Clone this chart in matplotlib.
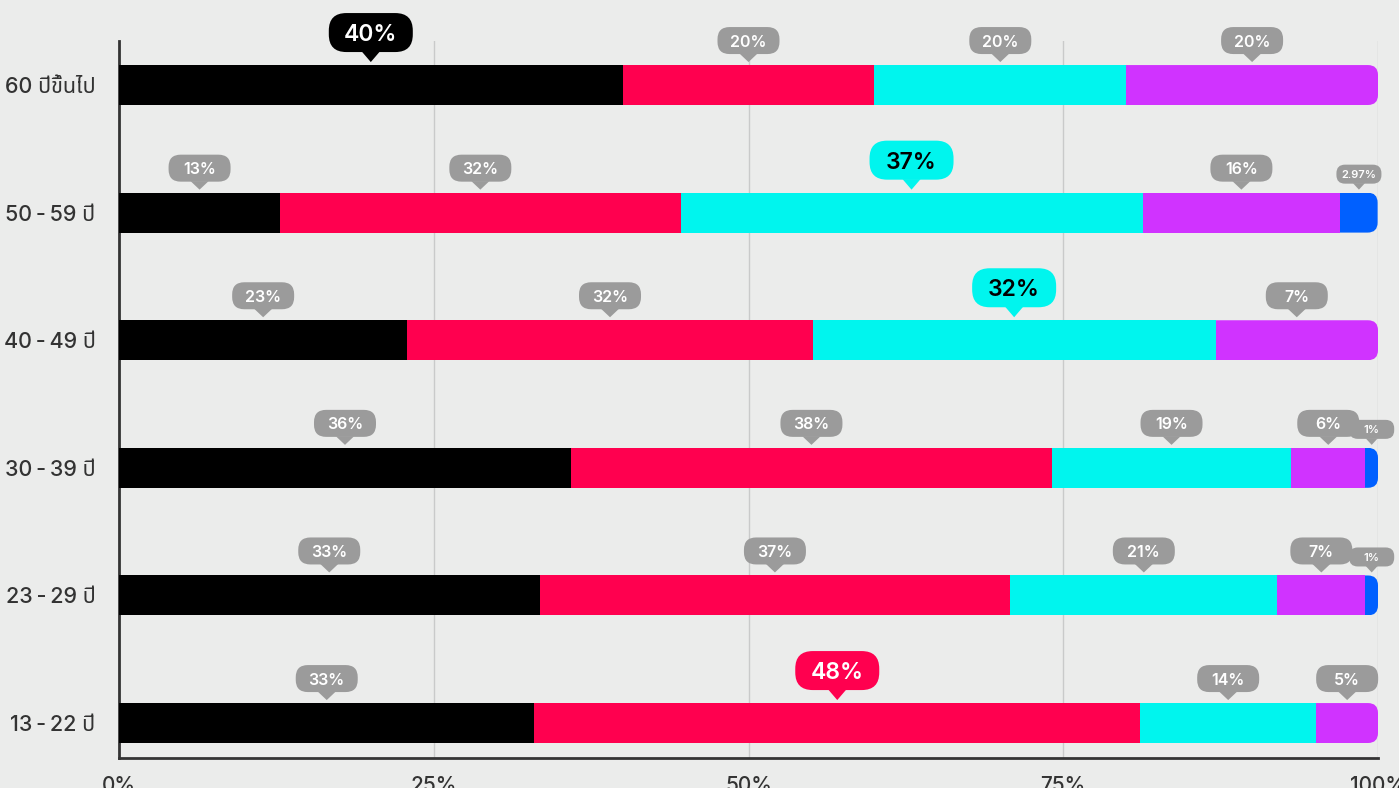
import matplotlib
matplotlib.use("Agg")
import matplotlib.pyplot as plt
from matplotlib.patches import FancyBboxPatch, Polygon
from matplotlib.transforms import IdentityTransform
from matplotlib import font_manager as fm
from matplotlib.ft2font import FT2Font

# ---------------- data ----------------
categories = ['13\u2009-\u200922 ปี', '23\u2009-\u200929 ปี', '30\u2009-\u200939 ปี',
              '40\u2009-\u200949 ปี', '50\u2009-\u200959 ปี', '60 ปีขึ้นไป']
black_vals = [33.0, 33.4, 35.9, 22.9, 12.8, 40.0]
red_vals = [48.1, 37.4, 38.2, 32.2, 31.8, 20.0]
cyan_vals = [14.0, 21.2, 19.0, 32.0, 36.7, 20.0]
purple_vals = [4.9, 7.0, 5.9, 12.9, 15.7, 20.0]
blue_vals = [0.0, 1.0, 1.0, 0.0, 2.97, 0.0]

black_lbl = ['33%', '33%', '36%', '23%', '13%', '40%']
red_lbl = ['48%', '37%', '38%', '32%', '32%', '20%']
cyan_lbl = ['14%', '21%', '19%', '32%', '37%', '20%']
purple_lbl = ['5%', '7%', '6%', '7%', '16%', '20%']
blue_lbl = ['', '1%', '1%', '', '2.97%', '']

highlight = [1, None, None, 2, 2, 0]  # series index of highlighted label per row

xticks = [0, 25, 50, 75, 100]
xtick_labels = ['0%', '25%', '50%', '75%', '100%']

series_vals = [black_vals, red_vals, cyan_vals, purple_vals, blue_vals]
series_lbls = [black_lbl, red_lbl, cyan_lbl, purple_lbl, blue_lbl]
colors = ['#000000', '#FF004F', '#00F5EE', '#D033FF', '#0060FF']
hl_text = ['white', 'white', 'black', 'white', 'white']

BG = '#EBECEB'
BUBBLE = '#9B9B9B'

# ---------------- fonts ----------------
thai_font = None
pref = ['Noto Sans Thai', 'Noto Sans Thai Looped', 'Sarabun', 'Kanit', 'Prompt',
        'Loma', 'Garuda', 'Norasi', 'Kinnari', 'Waree', 'Umpush', 'Laksaman',
        'TlwgTypo', 'Tlwg Typist', 'Sawasdee', 'Purisa', 'FreeSans']
names = {f.name for f in fm.fontManager.ttflist}
for p in pref:
    if p in names:
        thai_font = p
        break
if thai_font is None:
    for f in fm.fontManager.ttflist:
        try:
            cm = FT2Font(f.fname).get_charmap()
            if 0x0E1B in cm and 0x0E35 in cm:
                thai_font = f.name
                break
        except Exception:
            pass

label_family = ['Inter', 'DejaVu Sans']
tick_family = ['Inter'] + ([thai_font] if thai_font else []) + ['DejaVu Sans']

# ---------------- figure ----------------
W, H = 1399, 788
fig = plt.figure(figsize=(W / 100, H / 100), dpi=100, facecolor=BG)
ax = fig.add_axes([119 / W, 1 - 758 / H, (1378 - 119) / W, (758 - 41) / H])
ax.set_facecolor(BG)

ypos = list(range(len(categories)))
bar_h = 0.313
ax.set_xlim(0, 100)
ax.set_ylim(-0.274, 5.345)

for x in [25, 50, 75, 100]:
    ax.axvline(x, color='#C9CACA', lw=1.0, zorder=0)

left = [0.0] * len(categories)
last_idx = []
for i in range(len(categories)):
    li = max(k for k in range(len(series_vals)) if series_vals[k][i] > 0)
    last_idx.append(li)

seg_centers = [[None] * len(categories) for _ in series_vals]
for k, vals in enumerate(series_vals):
    bars = ax.barh(ypos, vals, left=left, height=bar_h, color=colors[k],
                   edgecolor='none', zorder=3)
    for i, b in enumerate(bars):
        if vals[i] > 0:
            seg_centers[k][i] = left[i] + vals[i] / 2
    left = [l + v for l, v in zip(left, vals)]
    # rounded right end on the last segment of each row
    for i, b in enumerate(bars):
        if last_idx[i] == k and vals[i] > 0:
            x0, y0 = ax.transData.transform((b.get_x(), b.get_y()))
            x1, y1 = ax.transData.transform((b.get_x() + b.get_width(), b.get_y() + b.get_height()))
            r = 10
            clip = FancyBboxPatch((x0 - 2 * r, y0), (x1 - x0) + 2 * r, y1 - y0,
                                  boxstyle=f"round,pad=0,rounding_size={r}",
                                  transform=IdentityTransform())
            b.set_clip_path(clip)

# ---------------- bubbles ----------------
def bubble(xd, yrow, text, kind, fc, tc):
    xc, ytop = ax.transData.transform((xd, yrow + bar_h / 2))
    if kind == 'big':
        w, h, th, tw, fs = 84, 39, 10, 18, 16.5
    elif kind == 'small':
        w, h, th, tw, fs = 45, 19, 6, 12, 8
    else:
        w, h, th, tw, fs = 62, 27, 8, 18, 11.5
    tip = ytop + 3
    base = tip + th
    r = h / 2 * 0.9
    box = FancyBboxPatch((xc - w / 2, base), w, h,
                         boxstyle=f"round,pad=0,rounding_size={r}",
                         fc=fc, ec='none', transform=IdentityTransform(),
                         clip_on=False, zorder=5)
    fig.add_artist(box)
    tri = Polygon([[xc - tw / 2, base + 0.5], [xc + tw / 2, base + 0.5], [xc, tip]],
                  closed=True, fc=fc, ec='none', transform=IdentityTransform(),
                  clip_on=False, zorder=5)
    fig.add_artist(tri)
    fig.text(xc, base + h / 2, text, transform=IdentityTransform(), ha='center',
             va='center_baseline', fontsize=fs, color=tc, fontweight='semibold',
             family=label_family, zorder=6)

for k in range(len(series_vals)):
    for i in range(len(categories)):
        xc = seg_centers[k][i]
        lbl = series_lbls[k][i]
        if xc is None or not lbl:
            continue
        if highlight[i] == k:
            bubble(xc, ypos[i], lbl, 'big', colors[k], hl_text[k])
        elif k == 4:
            bubble(xc, ypos[i], lbl, 'small', BUBBLE, 'white')
        else:
            bubble(xc, ypos[i], lbl, 'normal', BUBBLE, 'white')

# ---------------- axes styling ----------------
ax.set_yticks(ypos)
ax.set_yticklabels(categories, family=tick_family, fontsize=15.5, color='#333333',
                   fontweight='medium')
ax.set_xticks(xticks)
ax.set_xticklabels(xtick_labels, family=tick_family, fontsize=15, color='#333333',
                   fontweight='medium')
ax.tick_params(axis='both', length=0)
ax.tick_params(axis='y', pad=17)
ax.tick_params(axis='x', pad=13)
for s in ['top', 'right']:
    ax.spines[s].set_visible(False)
for s in ['left', 'bottom']:
    ax.spines[s].set_color('#333333')
    ax.spines[s].set_linewidth(2)

fig.savefig('out.png', dpi=100, facecolor=BG)
